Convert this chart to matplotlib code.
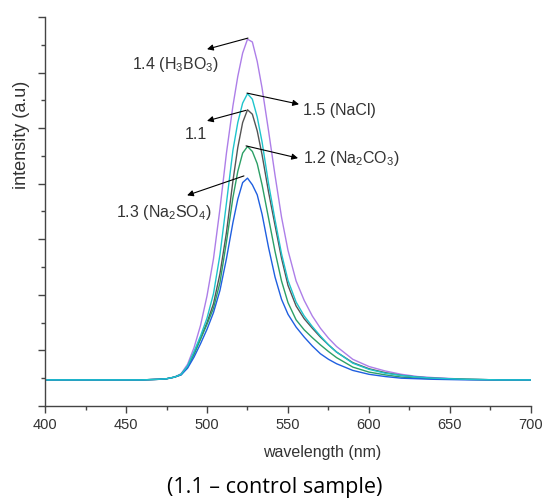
import matplotlib
matplotlib.use("Agg")
import matplotlib.pyplot as plt
from matplotlib.ticker import MultipleLocator, NullFormatter

plt.rcParams["font.family"] = ["Liberation Sans", "DejaVu Sans"]
plt.rcParams["mathtext.fontset"] = "custom"
plt.rcParams["mathtext.rm"] = "Liberation Sans"
plt.rcParams["mathtext.it"] = "Liberation Sans:italic"

# wavelength grid (nm) shared by all spectra
wavelength = [400, 460, 470, 475, 480, 484, 488, 492, 496, 500, 504, 508, 512,
              516, 519, 522, 525, 528, 531, 534, 538, 542, 546, 550, 555, 560,
              565, 570, 575, 580, 590, 600, 610, 620, 630, 640, 660, 680, 700]

# intensities (arbitrary units)
h3bo3 = [0.47, 0.47, 0.48, 0.49, 0.52, 0.58, 0.75, 1.05, 1.45, 1.98, 2.65, 3.55, 4.55,
         5.40, 5.93, 6.35, 6.60, 6.55, 6.20, 5.72, 4.95, 4.15, 3.40, 2.80, 2.25, 1.90,
         1.62, 1.40, 1.22, 1.07, 0.84, 0.71, 0.63, 0.57, 0.53, 0.51, 0.48, 0.47, 0.47]
nacl = [0.47, 0.47, 0.48, 0.49, 0.52, 0.57, 0.72, 0.98, 1.26, 1.58, 2.02, 2.72, 3.65,
        4.60, 5.10, 5.45, 5.62, 5.52, 5.20, 4.75, 4.00, 3.35, 2.74, 2.26, 1.87, 1.62,
        1.43, 1.26, 1.10, 0.97, 0.77, 0.66, 0.59, 0.55, 0.52, 0.50, 0.48, 0.47, 0.47]
control = [0.47, 0.47, 0.48, 0.49, 0.52, 0.57, 0.71, 0.95, 1.22, 1.50, 1.84, 2.38, 3.12,
           4.05, 4.65, 5.10, 5.33, 5.25, 4.95, 4.52, 3.85, 3.25, 2.66, 2.17, 1.80, 1.57,
           1.40, 1.24, 1.10, 0.97, 0.78, 0.67, 0.60, 0.55, 0.52, 0.50, 0.48, 0.47, 0.47]
na2co3 = [0.47, 0.47, 0.48, 0.49, 0.52, 0.56, 0.70, 0.93, 1.20, 1.47, 1.76, 2.22, 2.95,
          3.75, 4.22, 4.55, 4.67, 4.58, 4.36, 3.98, 3.38, 2.78, 2.25, 1.86, 1.55, 1.37,
          1.23, 1.10, 0.98, 0.87, 0.70, 0.61, 0.56, 0.52, 0.50, 0.49, 0.48, 0.47, 0.47]
na2so4 = [0.47, 0.47, 0.48, 0.49, 0.52, 0.56, 0.68, 0.88, 1.12, 1.38, 1.68, 2.08, 2.65,
          3.30, 3.72, 4.02, 4.10, 3.98, 3.80, 3.45, 2.85, 2.32, 1.92, 1.65, 1.42, 1.24,
          1.08, 0.94, 0.84, 0.76, 0.64, 0.57, 0.53, 0.50, 0.49, 0.48, 0.47, 0.47, 0.47]

fig = plt.figure(figsize=(5.47, 4.99), dpi=100)
ax = fig.add_axes([0.0823, 0.1864, 0.8884, 0.7796])

ax.plot(wavelength, h3bo3, color="#ad7ee8", lw=1.0)
ax.plot(wavelength, control, color="#555555", lw=1.0)
ax.plot(wavelength, na2co3, color="#2c9f66", lw=1.0)
ax.plot(wavelength, na2so4, color="#1f5fe0", lw=1.0)
ax.plot(wavelength, nacl, color="#1ec4cc", lw=1.0)

ax.set_xlim(400, 700)
ax.set_ylim(0, 7)
ax.xaxis.set_major_locator(MultipleLocator(50))
ax.xaxis.set_minor_locator(MultipleLocator(25))
ax.yaxis.set_major_locator(MultipleLocator(1))
ax.yaxis.set_minor_locator(MultipleLocator(0.5))
ax.yaxis.set_major_formatter(NullFormatter())
for side in ["top", "right"]:
    ax.spines[side].set_visible(False)
for side in ["left", "bottom"]:
    ax.spines[side].set_color("#444444")
    ax.spines[side].set_linewidth(1.0)
ax.tick_params(which="major", length=5, width=1.0, color="#444444",
               labelsize=10.5, labelcolor="#333333")
ax.tick_params(which="minor", length=3, width=1.0, color="#444444")

arrow = dict(arrowstyle="-|>", color="black", lw=0.8, mutation_scale=9,
             shrinkA=0, shrinkB=0)
txt = dict(fontsize=11.5, color="#333333", va="center")

ax.annotate("", xy=(500, 6.42), xytext=(525.3, 6.62), arrowprops=arrow)
ax.text(480.2, 6.15, "1.4 (H$_3$BO$_3$)", ha="center", **txt)

ax.annotate("", xy=(556.8, 5.43), xytext=(524.7, 5.63), arrowprops=arrow)
ax.text(559.3, 5.32, "1.5 (NaCl)", ha="left", **txt)

ax.annotate("", xy=(500, 5.13), xytext=(524.1, 5.32), arrowprops=arrow)
ax.text(493.2, 4.89, "1.1", ha="center", **txt)

ax.annotate("", xy=(556.2, 4.46), xytext=(524.1, 4.68), arrowprops=arrow)
ax.text(559.3, 4.46, "1.2 (Na$_2$CO$_3$)", ha="left", **txt)

ax.annotate("", xy=(487.7, 3.79), xytext=(522.8, 4.14), arrowprops=arrow)
ax.text(473.5, 3.49, "1.3 (Na$_2$SO$_4$)", ha="center", **txt)

fig.text(22 / 547, 1 - 135 / 499, "intensity (a.u)", rotation=90,
         ha="center", va="center", fontsize=13, color="#333333")
fig.text(322 / 547, 1 - 452 / 499, "wavelength (nm)", ha="center",
         va="center", fontsize=11.5, color="#333333")
fig.text(275 / 547, 1 - 488 / 499, "(1.1 \u2013 control sample)", ha="center",
         va="center", fontsize=15.5, color="black",
         family=["Open Sans", "DejaVu Sans"])

fig.savefig("out.png", dpi=100)
